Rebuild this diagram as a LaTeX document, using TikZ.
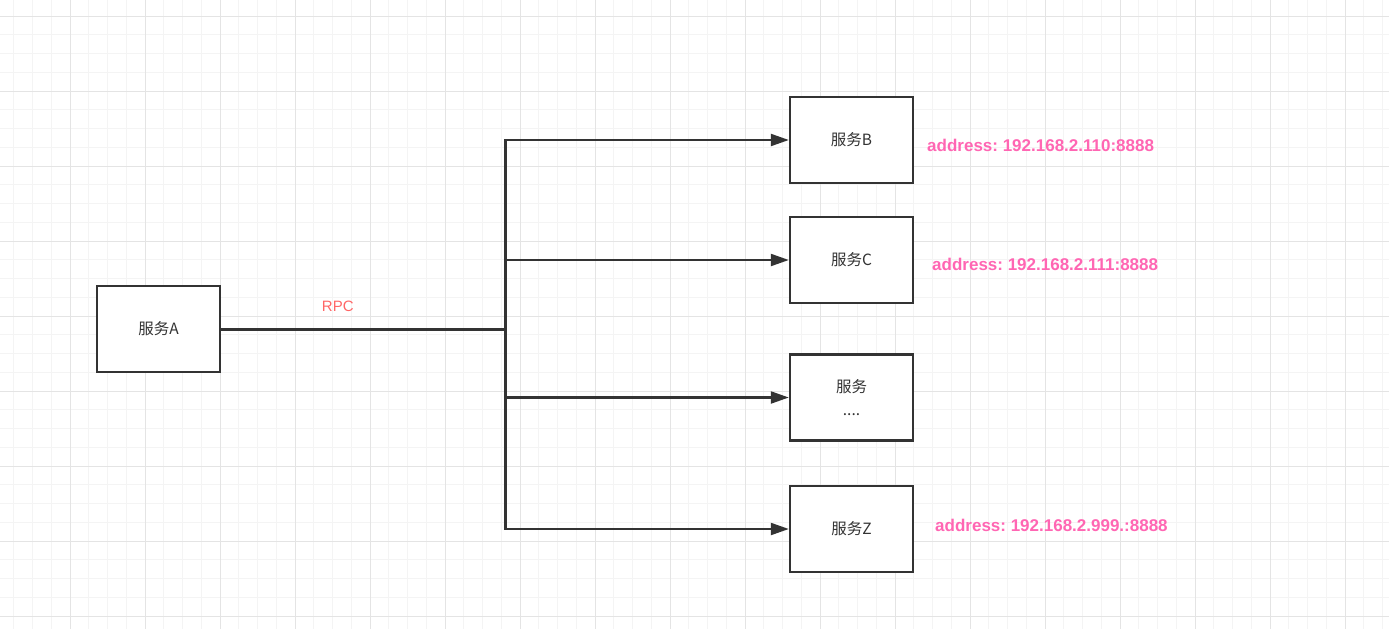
\documentclass[tikz,border=0pt]{standalone}
\usepackage{fontspec}
\usepackage{tikz}
\usetikzlibrary{arrows.meta}
\setmainfont{Liberation Sans}
\newfontfamily\cjk{Noto Sans CJK SC}
\definecolor{gridminor}{HTML}{F4F4F4}
\definecolor{gridmajor}{HTML}{E4E4E4}
\definecolor{linegray}{HTML}{333333}
\definecolor{rpcred}{HTML}{FF6666}
\definecolor{addrpink}{HTML}{FF66B3}
\frenchspacing

\tikzset{
  service/.style={draw=linegray, line width=2.4pt, fill=white, minimum width=123pt,
    minimum height=86pt, inner sep=0pt, font=\cjk\fontsize{15.5}{23}\selectfont,
    text=linegray, align=center},
  branch/.style={draw=linegray, line width=2.2pt, -{Triangle[length=18pt,width=12pt]}},
  addr/.style={anchor=west, inner sep=0pt, text=addrpink,
    font=\fontsize{17}{20}\selectfont\bfseries},
}

\begin{document}
\begin{tikzpicture}[x=1pt, y=-1pt]
  \useasboundingbox (0,0) rectangle (1389,629);
  \fill[white] (0,0) rectangle (1389,629);

  % background grid
  \pgfmathsetmacro{\gs}{18.75}
  \foreach \k in {0,...,74} {
    \pgfmathsetmacro{\gx}{-5+\k*\gs}
    \draw[gridminor, line width=1pt] (\gx,0) -- (\gx,629);
  }
  \foreach \k in {0,...,33} {
    \pgfmathsetmacro{\gy}{16+\k*\gs}
    \draw[gridminor, line width=1pt] (0,\gy) -- (1389,\gy);
  }
  \foreach \k in {0,...,18} {
    \pgfmathsetmacro{\gx}{-5+\k*75}
    \draw[gridmajor, line width=1pt] (\gx,0) -- (\gx,629);
  }
  \foreach \k in {0,...,8} {
    \pgfmathsetmacro{\gy}{16+\k*75}
    \draw[gridmajor, line width=1pt] (0,\gy) -- (1389,\gy);
  }

  % services
  \node[service] (a) at (158.5,329) {服务A};
  \node[service] (b) at (851.5,140) {服务B};
  \node[service] (c) at (851.5,260) {服务C};
  \node[service] (dots) at (851.5,397.5) {服务\\....};
  \node[service] (z) at (851.5,529) {服务Z};

  % rpc trunk
  \coordinate (j) at (505.5,329);
  \draw[linegray, line width=3pt] (a.east) -- (j)
    node[pos=0.41, above=13pt, text=rpcred, font=\fontsize{15}{17}\selectfont] (rpc) {RPC};
  \draw[linegray, line width=2.2pt, line cap=rect] (j |- b) -- (j |- z);

  % branches
  \draw[branch] (j |- b) -- (b.west);
  \draw[branch] (j |- c) -- (c.west);
  \draw[branch] (j |- dots) -- (dots.west);
  \draw[branch] (j |- z) -- (z.west);

  % addresses
  \node[addr] (addrb) at (927,145) {address: 192.168.2.110:8888};
  \node[addr] (addrc) at (932,264) {address: 192.168.2.111:8888};
  \node[addr] (addrz) at (935,525) {address: 192.168.2.999.:8888};
\end{tikzpicture}
\end{document}
